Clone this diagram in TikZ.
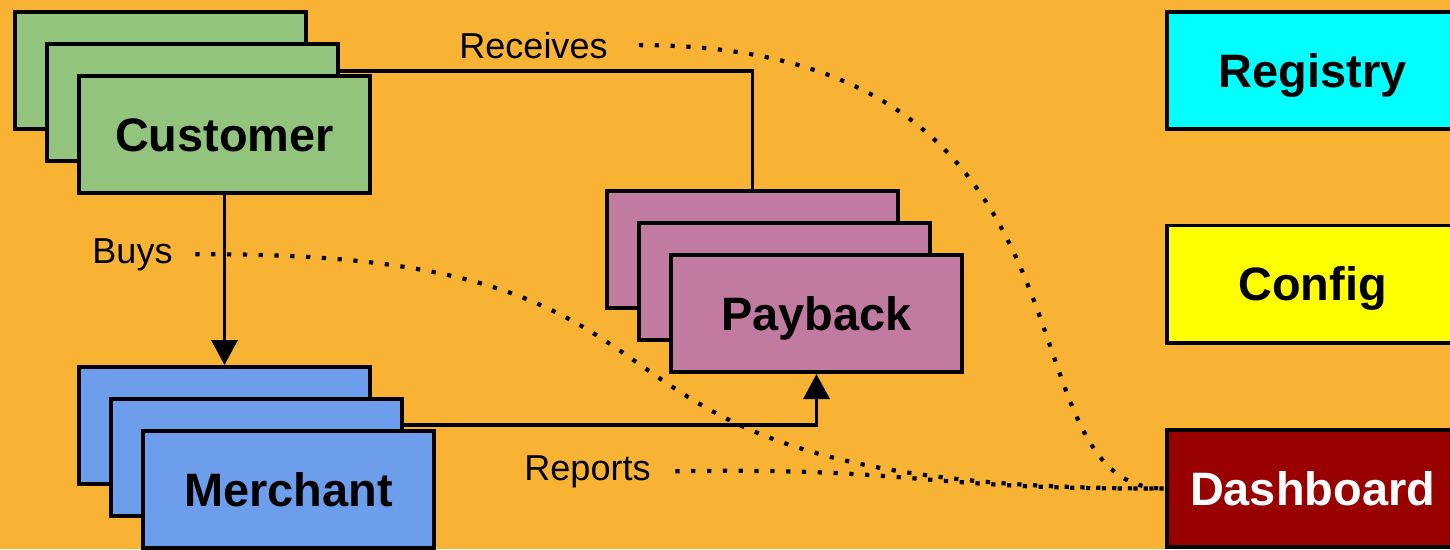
\documentclass[tikz,border=0pt]{standalone}
\usepackage{fontspec}
\setmainfont{Liberation Sans}
\usepackage{xcolor}
\usetikzlibrary{arrows.meta, calc}
\definecolor{bgorange}{HTML}{F8B334}
\definecolor{custgreen}{HTML}{93C47D}
\definecolor{merchblue}{HTML}{6D9EEB}
\definecolor{paypink}{HTML}{C27BA0}
\definecolor{regcyan}{HTML}{00FFFF}
\definecolor{confyellow}{HTML}{FFFF00}
\definecolor{dashred}{HTML}{990000}

\begin{document}
\begin{tikzpicture}[x=0.02cm, y=-0.02cm,
		card/.style={draw=black, line width=2pt, minimum width=5.83cm, minimum height=2.35cm,
			inner sep=0pt, text height=19pt, text depth=0pt, font=\fontsize{26.7}{30}\selectfont\bfseries},
		lbl/.style={font=\fontsize{20.5}{24}\selectfont, inner sep=2pt, anchor=base},
		link/.style={line width=1.8pt},
		arrowto/.style={link, -{Triangle[width=0.52cm,length=0.5cm]}},
		dots/.style={line width=2.4pt, dash pattern=on 2.4pt off 6.6pt}]
				\useasboundingbox (0,0) rectangle (1450,549);
				\clip (0,0) rectangle (1450,549);
				\fill[bgorange] (0,0) rectangle (1450,549);
				% stacks
				\node[card, fill=custgreen] (cust3) at (160.5,70.5) {};
				\node[card, fill=custgreen] (cust2) at (192.5,102.5) {};
				\node[card, fill=custgreen] (cust) at (224.5,134.5) {Customer};
				\node[card, fill=merchblue] (merch3) at (224.5,425.5) {};
				\node[card, fill=merchblue] (merch2) at (256.5,457.5) {};
				\node[card, fill=merchblue] (merch) at (288.5,489.5) {Merchant};
				\node[card, fill=paypink] (pay3) at (752.5,249.5) {};
				\node[card, fill=paypink] (pay2) at (784.5,281.5) {};
				\node[card, fill=paypink] (pay) at (816.5,313.5) {Payback};
				% services
				\node[card, fill=regcyan] (reg) at (1312.5,70.5) {Registry};
				\node[card, fill=confyellow] (conf) at (1312.5,284) {Config};
				\node[card, fill=dashred, text=white] (dash) at (1312.5,488.5) {Dashboard};
				% labels
				\node[lbl] (buys) at (132.5,263) {Buys};
				\node[lbl] (rcv) at (533.5,58) {Receives};
				\node[lbl] (rep) at (587.5,480) {Reports};
				% links
				\draw[arrowto] (cust.south) -- (merch3.north);
				\draw[link] ([yshift=-0.58cm]cust2.north east) -| (pay3.north);
				\draw[arrowto] ([yshift=-0.56cm]merch2.north east) -| (pay.south);
				\draw[dots] ([xshift=0.55cm]rcv.east) .. controls (1130,45) and (990,490) .. (dash.west);
				\draw[dots] ([xshift=0.38cm]buys.east) .. controls (783,250) and (492,490) .. (dash.west);
				\draw[dots] ([xshift=0.42cm]rep.east) .. controls (920,467) and (920,490) .. (dash.west);
			\end{tikzpicture}
\end{document}
